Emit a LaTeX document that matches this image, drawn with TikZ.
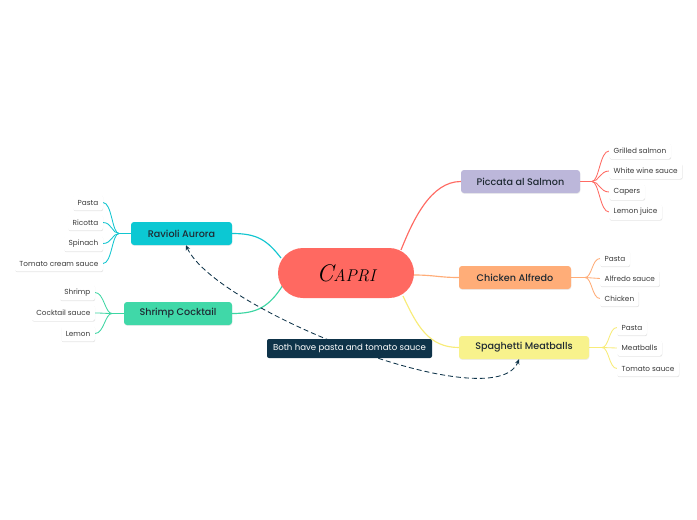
\documentclass[tikz,border=0pt]{standalone}
\usepackage{fontspec}
\setmainfont{Poppins}
\newfontfamily\medfont{Poppins Medium}
\newfontfamily\caprifont{Latin Modern Roman}
\usetikzlibrary{arrows.meta,shadows,backgrounds,calc}
\definecolor{caprifill}{HTML}{FF6961}
\definecolor{picfill}{HTML}{BCB7DA}
\definecolor{chkfill}{HTML}{FFAD78}
\definecolor{spafill}{HTML}{F8F28C}
\definecolor{ravfill}{HTML}{0CC8D3}
\definecolor{shrfill}{HTML}{40D8A8}
\definecolor{picline}{HTML}{FF6B63}
\definecolor{chkline}{HTML}{FFAD78}
\definecolor{spaline}{HTML}{F8EC78}
\definecolor{ravline}{HTML}{12C6D0}
\definecolor{shrline}{HTML}{3DD6A3}
\definecolor{navy}{HTML}{0E3349}
\definecolor{txt}{HTML}{1F2A33}
\definecolor{leaftxt}{HTML}{3A3A3A}
\tikzset{
  mainbox/.style={rounded corners=3pt, minimum height=23pt, inner sep=0pt,
    text=txt, font=\medfont\fontsize{9.6}{11}\selectfont,
    drop shadow={opacity=0.14, shadow xshift=0.3pt, shadow yshift=-0.9pt}},
  leafbox/.style={fill=white, rounded corners=2pt, minimum height=15.5pt, inner xsep=4.5pt, inner ysep=0pt,
    text=leaftxt, font=\fontsize{7.3}{8}\selectfont,
    drop shadow={opacity=0.2, shadow xshift=0.4pt, shadow yshift=-0.9pt}},
  branch/.style={line width=1.15pt},
  twig/.style={line width=0.85pt},
  rel/.style={navy, line width=0.85pt, dash pattern=on 5pt off 3pt,
    {Stealth[length=5pt,width=4.5pt]}-{Stealth[length=5pt,width=4.5pt]}}
}
\begin{document}
\begin{tikzpicture}[x=1pt,y=-1pt]
\useasboundingbox (0,0) rectangle (697,520);

% central
\node[fill=caprifill, rounded corners=25pt, minimum width=136pt, minimum height=50pt, inner sep=0pt,
  text=black] (capri) at (346,273) {\caprifont\itshape{\fontsize{24}{24}\selectfont C}{\fontsize{17}{17}\selectfont APRI}};

% main topics
\node[mainbox, fill=picfill, minimum width=119pt] (pic) at (520.5,181.5) {Piccata al Salmon};
\node[mainbox, fill=chkfill, minimum width=112pt] (chk) at (515,277.5) {Chicken Alfredo};
\node[mainbox, fill=spafill, minimum width=130pt] (spa) at (524,347.5) {Spaghetti Meatballs};
\node[mainbox, fill=ravfill, minimum width=101pt] (rav) at (181.5,233.5) {Ravioli Aurora};
\node[mainbox, fill=shrfill, minimum width=108pt] (shr) at (178,313.5) {Shrimp Cocktail};

% leaves right
\node[leafbox, anchor=west] (p1) at (609,151) {Grilled salmon};
\node[leafbox, anchor=west] (p2) at (609,171) {White wine sauce};
\node[leafbox, anchor=west] (p3) at (609,192) {Capers};
\node[leafbox, anchor=west] (p4) at (609,212) {Lemon juice};

\node[leafbox, anchor=west] (c1) at (600,258.5) {Pasta};
\node[leafbox, anchor=west] (c2) at (600,278.5) {Alfredo sauce};
\node[leafbox, anchor=west] (c3) at (600,298.5) {Chicken};

\node[leafbox, anchor=west] (s1) at (617,327.5) {Pasta};
\node[leafbox, anchor=west] (s2) at (617,348) {Meatballs};
\node[leafbox, anchor=west] (s3) at (617,368.5) {Tomato sauce};

% leaves left
\node[leafbox, anchor=east] (r1) at (103,202.5) {Pasta};
\node[leafbox, anchor=east] (r2) at (103,222.5) {Ricotta};
\node[leafbox, anchor=east] (r3) at (103,243.5) {Spinach};
\node[leafbox, anchor=east] (r4) at (103,263.5) {Tomato cream sauce};

\node[leafbox, anchor=east] (h1) at (95,292.5) {Shrimp};
\node[leafbox, anchor=east] (h2) at (95,313) {Cocktail sauce};
\node[leafbox, anchor=east] (h3) at (95,333.5) {Lemon};

% junctions
\coordinate (jp) at (592,181.5);
\coordinate (jc) at (585,277.5);
\coordinate (js) at (602,347.5);
\coordinate (jr) at (119,233.5);
\coordinate (jh) at (112,313.5);

\begin{pgfonlayer}{background}
\fill[white] (0,0) rectangle (697,520);
% central branches
\draw[branch, picline] ($(capri.center)+(55,-23)$) .. controls +(12,-30) and +(-30,0) .. (pic.west);
\draw[branch, chkline] ($(capri.center)+(68,2)$) .. controls +(20,0) and +(-20,0) .. (chk.west);
\draw[branch, spaline] ($(capri.center)+(57,23)$) .. controls +(14,30) and +(-30,0) .. (spa.west);
\draw[branch, ravline] ($(capri.center)+(-65,-15)$) .. controls +(-14,-18) and +(25,0) .. (rav.east);
\draw[branch, shrline] ($(capri.center)+(-63,12)$) .. controls +(-14,22) and +(25,0) .. (shr.east);

% twigs
\draw[branch, picline] (pic.east) -- (jp);
\foreach \l in {p1,p2,p3,p4} \draw[twig, picline] (jp) .. controls +(7,0) and +(-9,0) .. (\l.west);
\draw[branch, chkline] (chk.east) -- (jc);
\foreach \l in {c1,c2,c3} \draw[twig, chkline] (jc) .. controls +(7,0) and +(-8,0) .. (\l.west);
\draw[branch, spaline] (spa.east) -- (js);
\foreach \l in {s1,s2,s3} \draw[twig, spaline] (js) .. controls +(7,0) and +(-8,0) .. (\l.west);
\draw[branch, ravline] (rav.west) -- (jr);
\foreach \l in {r1,r2,r3,r4} \draw[twig, ravline] (jr) .. controls +(-7,0) and +(9,0) .. (\l.east);
\draw[branch, shrline] (shr.west) -- (jh);
\foreach \l in {h1,h2,h3} \draw[twig, shrline] (jh) .. controls +(-7,0) and +(9,0) .. (\l.east);
\end{pgfonlayer}

% relationship
\coordinate (ra) at ($(rav.south)+(4.5,0)$);
\coordinate (sa) at ($(spa.south)+(-5,0)$);
\draw[rel] (ra) .. controls (215,310) and (495,420) .. (sa);
\node[fill=navy, text=white, rounded corners=2pt, minimum width=165pt, minimum height=19pt, inner sep=0pt,
  font=\fontsize{8.6}{9}\selectfont] (lab) at (349.5,348.5) {Both have pasta and tomato sauce};
\end{tikzpicture}
\end{document}
